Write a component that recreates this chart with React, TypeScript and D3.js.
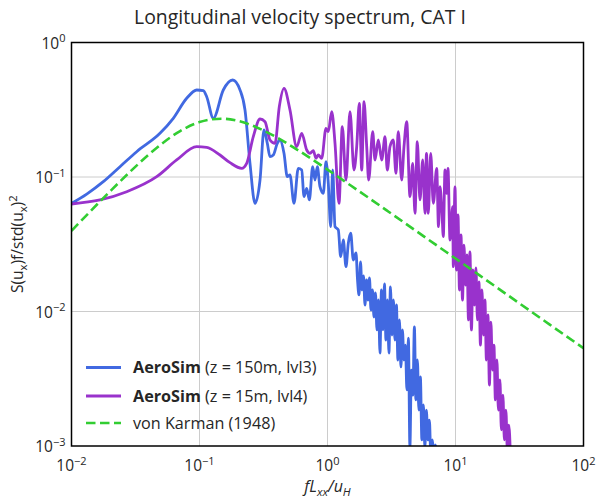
import React from "react";
import * as d3 from "d3";

// ---- data ----
const blueX = [0.01,0.01315,0.01772,0.02393,0.0323,0.0491,0.0624,0.0794,0.0951,0.1071,0.1138,0.1282,0.1534,0.1817,0.2073,0.2267,0.248,0.2715,0.297,0.3191,0.3386,0.3554,0.3773,0.4053,0.4255,0.4572,0.4852,0.5093,0.5472,0.5911,0.6288,0.6554,0.688,0.7209,0.7663,0.7985,0.8323,0.8737,0.9273,0.9734,1.0146,1.0593,1.098,1.1446,1.2144,1.268,1.3286,1.3949,1.4536,1.5178,1.5907,
  1.670,1.716,1.763,1.811,1.860,1.911,1.963,2.017,2.072,2.128,2.186,2.246,2.307,2.370,2.435,2.501,2.570,2.640,2.712,2.786,2.862,2.940,3.020,3.103,3.187,3.274,3.364,3.455,3.550,3.647,3.746,3.849,3.954,4.062,4.172,4.286,4.403,4.524,4.647,4.774,4.904,5.038,5.176,5.317,5.462,5.611,5.764,5.922,6.083,6.249,6.420,6.595,6.775,6.960,7.150];
const blueY = [0.0637,0.0747,0.0923,0.1193,0.1542,0.2113,0.2732,0.3847,0.4434,0.4382,0.3954,0.2732,0.4434,0.5262,0.4434,0.3148,0.1264,0.0637,0.095,0.2236,0.178,0.1416,0.1457,0.178,0.1884,0.1501,0.1005,0.1035,0.0637,0.1161,0.1127,0.0714,0.0824,0.0675,0.1193,0.095,0.1193,0.0847,0.0756,0.13,0.0898,0.0427,0.1127,0.0427,0.0404,0.02555,0.034,0.02153,0.0321,0.0382,0.02415,
  0.02722,0.01715,0.01327,0.02333,0.01445,0.01836,0.01118,0.01715,0.01218,0.01775,0.01026,0.01445,0.0091,0.01373,0.00729,0.01218,0.00491,0.01445,0.00729,0.01601,0.00614,0.01218,0.00491,0.01521,0.00669,0.01218,0.00614,0.01118,0.00436,0.00865,0.00387,0.00729,0.00436,0.00563,0.00261,0.00635,0.000983,0.00367,0.00239,0.00767,0.0022,0.00436,0.00185,0.00326,0.00111,0.00202,0.000983,0.00185,0.00111,0.00156,0.00085,0.00111,0.00085,0.00102,0.00079];

const purpleX = [0.01,0.0167,0.027,0.0463,0.0663,0.0951,0.1138,0.1446,0.1731,0.2137,0.2337,0.2632,0.297,0.3249,0.3554,0.3889,0.4201,0.4572,0.5093,0.5744,0.6288,0.688,0.73,0.7746,0.8132,0.8472,0.9009,0.9734,1.0146,1.0785,1.1446,1.2297,1.305,1.3949,1.4987,1.6106,1.6912,1.7721,1.8506,1.9289,2.0243,2.0983,2.2551,2.3502,2.4938,2.6517,2.8137,2.9328,3.0768,3.2654,3.4281,3.5727,3.7987,3.9597,4.1571,4.4109,4.6308,4.8256,5.03,5.28,5.543,5.776,5.934,6.13,6.401,6.708,7.13,7.365,7.566,7.843,8.03,8.279,8.535,8.737,9.058,9.509,9.612,
  9.91,10.18,10.46,10.74,11.04,11.34,11.65,11.96,12.29,12.63,12.97,13.32,13.69,14.06,14.45,14.84,15.25,15.66,16.09,16.53,16.98,17.44,17.92,18.41,18.91,19.43,19.96,20.50,21.06,21.64,22.23,22.83,23.46,24.10,24.75,25.43,26.12,26.84];
const purpleY = [0.063,0.0675,0.0777,0.1005,0.1338,0.168,0.1663,0.1457,0.1278,0.1161,0.1264,0.1994,0.27,0.2577,0.1884,0.178,0.3332,0.4565,0.3148,0.168,0.2113,0.1588,0.1501,0.1569,0.1377,0.1457,0.1377,0.2302,0.2172,0.3058,0.178,0.0637,0.2366,0.095,0.3058,0.1127,0.168,0.3532,0.1127,0.363,0.168,0.095,0.2172,0.1338,0.1884,0.1338,0.1994,0.1127,0.168,0.1884,0.1065,0.2172,0.095,0.168,0.2577,0.0714,0.1264,0.0537,0.183,0.0675,0.1338,0.0537,0.1501,0.0537,0.1501,0.0637,0.1161,0.0427,0.0847,0.0537,0.036,0.1127,0.0756,0.1161,0.034,0.0601,0.02153,
  0.0843,0.02035,0.0522,0.01445,0.03705,0.01218,0.0312,0.01574,0.0263,0.00865,0.0277,0.00729,0.02035,0.01118,0.02106,0.00865,0.01657,0.00563,0.01445,0.00669,0.01218,0.00436,0.00942,0.00284,0.00835,0.00367,0.00563,0.0022,0.00436,0.00185,0.0031,0.00132,0.00239,0.00111,0.00185,0.000934,0.00143,0.00085];

const karmanX = [0.01,0.02,0.03,0.04,0.05,0.07,0.1,0.12,0.15,0.2,0.25,0.3,0.4,0.5,0.7,1,1.5,2,3,5,7,10,20,30,50,70,100];
const karmanY = [0.0398,0.0782,0.114,0.1463,0.1746,0.2185,0.2561,0.2672,0.2712,0.2612,0.2443,0.2271,0.1973,0.1742,0.1424,0.1135,0.0872,0.0722,0.0552,0.0393,0.0314,0.0248,0.0156,0.0119,0.00846,0.00676,0.00534];

const xTicks = [0.01, 0.1, 1, 10, 100];
const xTickExp = ["\u22122", "\u22121", "0", "1", "2"];
const yTicks = [0.001, 0.01, 0.1, 1];
const yTickExp = ["\u22123", "\u22122", "\u22121", "0"];

const seriesNames = ["AeroSim", "AeroSim", "von Karman (1948)"];
const seriesDetails = [" (z = 150m, lvl3)", " (z = 15m, lvl4)", ""];
const colors = ["#4169E1", "#9932CC", "#32CD32"];

const W = 600, H = 500;
const L = 71.5, R = 583.5, T = 42.5, B = 446;
const FONT = "'Open Sans', 'DejaVu Sans', sans-serif";
const TXT = "#262626";

export default function App() {
  const x = d3.scaleLog().domain([0.01, 100]).range([L, R]);
  const y = d3.scaleLog().domain([0.001, 1]).range([B, T]);
  const line = d3.line<[number, number]>()
    .x(d => x(d[0]))
    .y(d => y(d[1]))
    .curve(d3.curveMonotoneX);
  const series = [
    blueX.map((v, i) => [v, blueY[i]] as [number, number]),
    purpleX.map((v, i) => [v, purpleY[i]] as [number, number]),
    karmanX.map((v, i) => [v, karmanY[i]] as [number, number]),
  ];
  const legendY = [367.5, 396, 423];
  return (
    <svg width={W} height={H} style={{ position: "absolute", left: 0, top: 0, background: "#fff" }} fontFamily={FONT}>
      <defs>
        <clipPath id="plotclip">
          <rect x={L} y={T} width={R - L} height={B - T} />
        </clipPath>
      </defs>
      <rect x={0} y={0} width={W} height={H} fill="#fff" />
      {/* grid */}
      {xTicks.slice(1, -1).map((t, i) => (
        <line key={"gx" + i} x1={x(t)} x2={x(t)} y1={T} y2={B} stroke="#cccccc" strokeWidth={1} />
      ))}
      {yTicks.slice(1, -1).map((t, i) => (
        <line key={"gy" + i} x1={L} x2={R} y1={y(t)} y2={y(t)} stroke="#cccccc" strokeWidth={1} />
      ))}
      {/* data */}
      <g clipPath="url(#plotclip)">
        {series.map((s, i) => (
          <path key={"s" + i} d={line(s) || ""} fill="none" stroke={colors[i]}
            strokeWidth={i === 2 ? 2.6 : 2.8} strokeLinejoin="round" strokeLinecap={i === 2 ? "butt" : "round"}
            strokeDasharray={i === 2 ? "9.5,4.5" : undefined} />
        ))}
      </g>
      {/* frame */}
      <rect x={L} y={T} width={R - L} height={B - T} fill="none" stroke="#000" strokeWidth={1.5} />
      {/* x tick labels */}
      {xTicks.map((t, i) => (
        <text key={"xt" + i} x={x(t)} y={471} textAnchor="middle" fontSize={15.5} fill={TXT}>
          10<tspan dy={-6.5} fontSize={11}>{xTickExp[i]}</tspan>
        </text>
      ))}
      {/* y tick labels */}
      {yTicks.map((t, i) => (
        <text key={"yt" + i} x={L - 6} y={y(t) + 6} textAnchor="end" fontSize={15.5} fill={TXT}>
          10<tspan dy={-6.5} fontSize={11}>{yTickExp[i]}</tspan>
        </text>
      ))}
      {/* title */}
      <text x={300} y={24} textAnchor="middle" fontSize={19.4} fill={TXT}>
        Longitudinal velocity spectrum, CAT I
      </text>
      {/* x label */}
      <text x={(L + R) / 2} y={492} textAnchor="middle" fontSize={16} fill={TXT} fontStyle="italic">
        fL<tspan dy={4} fontSize={11.5}>xx</tspan><tspan dy={-4}>/u</tspan><tspan dy={4} fontSize={11.5}>H</tspan>
      </text>
      {/* y label */}
      <text transform={`translate(23,${(T + B) / 2}) rotate(-90)`} textAnchor="middle" fontSize={15.6} fill={TXT}>
        S(u<tspan dy={4} fontSize={11.2}>x</tspan><tspan dy={-4}>)f/std(u</tspan><tspan dy={4} fontSize={11.2}>x</tspan><tspan dy={-4}>)</tspan><tspan dy={-6.5} fontSize={11.2}>2</tspan>
      </text>
      {/* legend */}
      {legendY.map((ly, i) => (
        <g key={"lg" + i}>
          <line x1={86} x2={121} y1={ly} y2={ly} stroke={colors[i]} strokeWidth={i === 2 ? 2.6 : 2.8}
            strokeDasharray={i === 2 ? "9.5,4.5" : undefined} />
          <text x={133} y={ly + 5.8} fontSize={16.2} fill={TXT}>
            {i < 2 ? <tspan fontWeight="bold">{seriesNames[i]}</tspan> : seriesNames[i]}
            {seriesDetails[i]}
          </text>
        </g>
      ))}
    </svg>
  );
}
